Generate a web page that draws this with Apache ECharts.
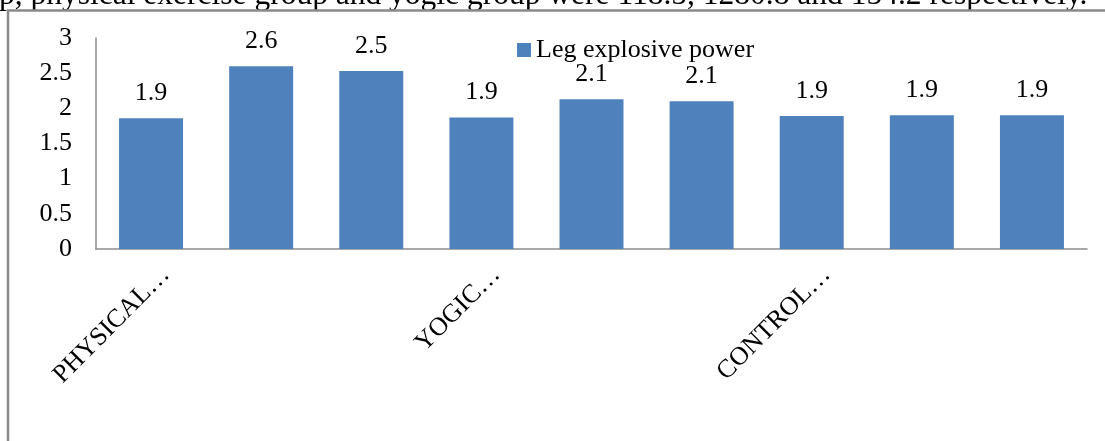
<!DOCTYPE html>
<html>
<head>
<meta charset="utf-8">
<script src="https://cdn.jsdelivr.net/npm/echarts@6/dist/echarts.min.js"></script>
<style>
  html, body { margin: 0; padding: 0; background: #fff; }
  #chart { width: 1105px; height: 441px; }
</style>
</head>
<body>
<div id="chart"></div>
<script>
// Category tick labels (only every third group is labelled)
const categories = ['PHYSICAL…', '', '', 'YOGIC…', '', '', 'CONTROL…', '', ''];
// Leg explosive power per group
const legPower = [1.86, 2.60, 2.53, 1.87, 2.13, 2.10, 1.89, 1.90, 1.90];
// Value axis ticks
const yMin = 0, yMax = 3, yStep = 0.5;
const seriesName = 'Leg explosive power';
const bodyLine = 'p, physical exercise group and yogic group were 118.5, 1280.8 and 154.2 respectively.';

const serif = '"Liberation Serif", "Times New Roman", serif';
const chart = echarts.init(document.getElementById('chart'), null, { renderer: 'canvas' });

chart.setOption({
  backgroundColor: '#ffffff',
  animation: false,
  textStyle: { fontFamily: serif },
  graphic: [
    {
      type: 'text',
      x: -1,
      y: -4,
      style: {
        text: bodyLine,
        font: '31.5px ' + serif,
        fill: '#000',
        align: 'left',
        verticalAlign: 'middle'
      }
    },
    {
      type: 'rect',
      shape: { x: 8, y: 10.5, width: 1120, height: 460 },
      style: { fill: 'none', stroke: '#8a8a8a', lineWidth: 2.5 }
    }
  ],
  legend: {
    data: [seriesName],
    left: 512,
    top: 32,
    itemWidth: 14,
    itemHeight: 14,
    icon: 'rect',
    textStyle: { fontSize: 26, color: '#000', fontFamily: serif }
  },
  grid: { left: 96, right: 18, top: 38, bottom: 192, containLabel: false },
  xAxis: {
    type: 'category',
    data: categories,
    axisLine: { lineStyle: { color: '#8c8c8c', width: 1.5 } },
    axisTick: { show: false },
    axisLabel: {
      interval: 0,
      rotate: 45,
      margin: 7,
      fontSize: 26,
      color: '#000',
      fontFamily: serif,
      verticalAlign: 'top',
      padding: [8, 0, 0, 0]
    }
  },
  yAxis: {
    type: 'value',
    min: yMin,
    max: yMax,
    interval: yStep,
    splitLine: { show: false },
    axisLine: { show: true, lineStyle: { color: '#8c8c8c', width: 1.5 } },
    axisTick: { show: false },
    axisLabel: { margin: 24, fontSize: 26, color: '#000', fontFamily: serif }
  },
  series: [{
    name: seriesName,
    type: 'bar',
    data: legPower,
    barWidth: 64,
    itemStyle: { color: '#4f81bd' },
    label: {
      show: true,
      position: 'top',
      distance: 12,
      fontSize: 26,
      color: '#000',
      fontFamily: serif,
      formatter: p => p.value.toFixed(1)
    }
  }]
});
</script>
</body>
</html>
